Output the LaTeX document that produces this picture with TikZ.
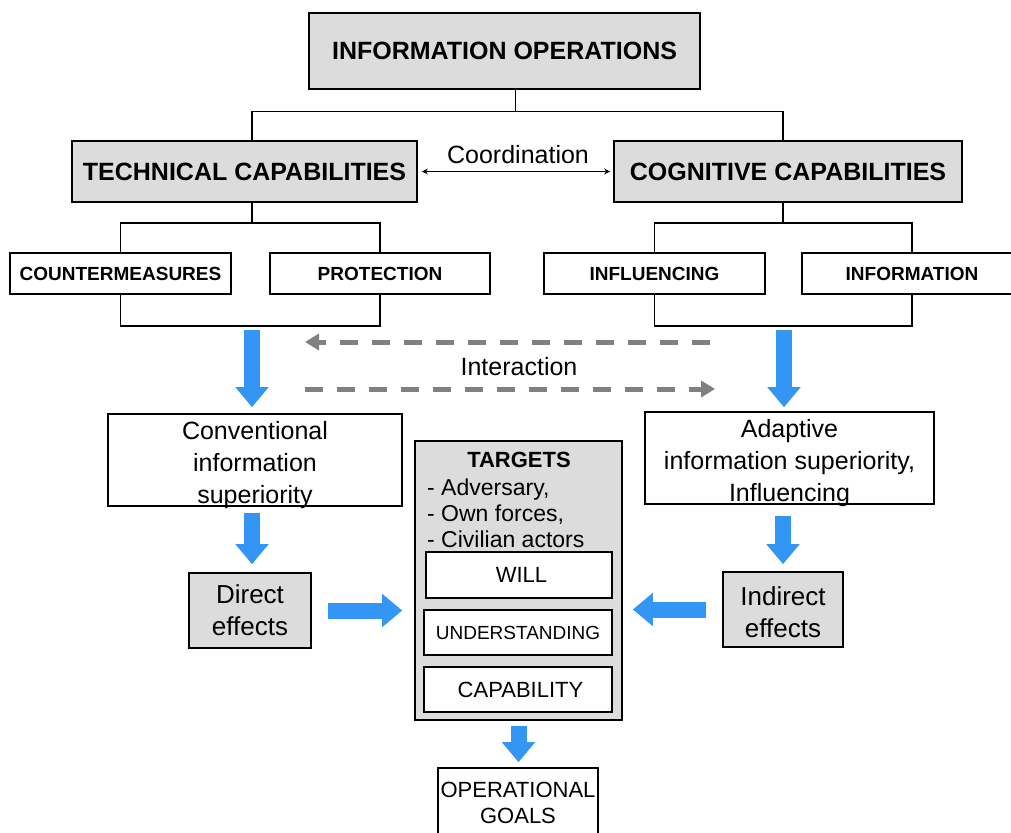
\documentclass[tikz,border=0pt]{standalone}
\usepackage{fontspec}
\setmainfont{Liberation Sans}
\usetikzlibrary{arrows.meta,calc}
\definecolor{boxgray}{RGB}{220,220,220}
\definecolor{arrowblue}{RGB}{51,150,245}
\definecolor{dashgray}{RGB}{128,128,128}
\begin{document}
\begin{tikzpicture}[x=1pt,y=-1pt,
  box/.style={draw=black, line width=1.6pt, inner sep=0pt, align=center},
  graybox/.style={box, fill=boxgray},
  whitebox/.style={box, fill=white},
  conn/.style={draw=black, line width=1.4pt},
  bluearrow/.style={draw=arrowblue, line width=16pt, -{Triangle[width=32pt,length=20pt]}},
  dasharrow/.style={draw=dashgray, line width=5pt, dash pattern=on 18pt off 14pt, -{Triangle[width=16pt,length=14pt]}},
  headfont/.style={font=\bfseries\fontsize{25}{30}\selectfont},
  subfont/.style={font=\bfseries\fontsize{19}{23}\selectfont},
  bodyfont/.style={font=\fontsize{25}{32}\selectfont},
  smallfont/.style={font=\fontsize{22}{26}\selectfont},
  plaintext/.style={inner sep=0pt, align=center}
]
\useasboundingbox (0,0) rectangle (1011,832);
\fill[white] (0,0) rectangle (1011,832);

% top levels
\node[graybox, headfont, minimum width=391pt, minimum height=76pt] (io) at (504.5,51) {INFORMATION OPERATIONS};
\node[graybox, headfont, minimum width=345pt, minimum height=61pt] (tech) at (244.5,171.5) {TECHNICAL CAPABILITIES};
\node[graybox, headfont, minimum width=348pt, minimum height=61pt] (cog) at (788,171.5) {COGNITIVE CAPABILITIES};

\node[whitebox, subfont, minimum width=221pt, minimum height=41pt] (cm) at (120.5,273.5) {COUNTERMEASURES};
\node[whitebox, subfont, minimum width=220pt, minimum height=41pt] (pr) at (380,273.5) {PROTECTION};
\node[whitebox, subfont, minimum width=221pt, minimum height=41pt] (inf) at (654.5,273.5) {INFLUENCING};
\node[whitebox, subfont, minimum width=220pt, minimum height=41pt] (infm) at (912,273.5) {INFORMATION};

\node[bodyfont] (coordlbl) at (518,155) {Coordination};
\node[bodyfont] (interlbl) at (519,367) {Interaction};

\node[whitebox, minimum width=294pt, minimum height=92pt] (conv) at (255,460) {};
\node[plaintext, bodyfont] (convtxt) at (255,465) {Conventional\\information\\superiority};
\node[whitebox, minimum width=289pt, minimum height=92pt] (adapt) at (789.5,458) {};
\node[plaintext, bodyfont] (adapttxt) at (789.5,463) {Adaptive\\information superiority,\\Influencing};

\node[graybox, font=\fontsize{26}{32}\selectfont, minimum width=122pt, minimum height=75pt] (direct) at (250,610.5) {Direct\\effects};
\node[graybox, minimum width=120pt, minimum height=75pt] (indirect) at (783,609.5) {};
\node[plaintext, font=\fontsize{26}{32}\selectfont] (indirecttxt) at (783,612.5) {Indirect\\effects};

\node[graybox, minimum width=207pt, minimum height=279pt] (targets) at (518.5,580.5) {};
\node[font=\bfseries\fontsize{22}{26}\selectfont] (ttitle) at (519,460) {TARGETS};
\node[font=\fontsize{23}{26}\selectfont, anchor=west, align=left, inner sep=0pt] (tlist) at (427,513) {- Adversary,\\- Own forces,\\- Civilian actors};
\node[whitebox, smallfont, minimum width=186pt, minimum height=46pt] (will) at (519,575) {\hspace*{5pt}WILL};
\node[whitebox, font=\fontsize{19}{23}\selectfont, minimum width=188pt, minimum height=45pt] (und) at (518,632.5) {UNDERSTANDING};
\node[whitebox, smallfont, minimum width=188pt, minimum height=45pt] (cap) at (518,689.5) {\hspace*{5pt}CAPABILITY};

\node[whitebox, smallfont, minimum width=160pt, minimum height=70pt] (goals) at (518,803) {OPERATIONAL\\GOALS};

% tree connectors
\draw[conn] ([xshift=11pt]io.south) -- ++(0,22) coordinate (j1);
\draw[conn] ([xshift=7.5pt]tech.north) |- (j1) -| ([xshift=-5pt]cog.north);
\draw[conn] ([xshift=7.5pt]tech.south) -- ++(0,20) coordinate (j2);
\draw[conn] (cm.north) |- (j2) -| (pr.north);
\draw[conn] (cm.south) -- ++(0,31) -| (pr.south);
\draw[conn] ([xshift=-5pt]cog.south) -- ++(0,20) coordinate (j3);
\draw[conn] (inf.north) |- (j3) -| (infm.north);
\draw[conn] (inf.south) -- ++(0,31) -| (infm.south);

% coordination
\draw[conn, {Stealth[length=6pt,width=6pt]}-{Stealth[length=6pt,width=6pt]}, shorten <=4pt, shorten >=3pt] (tech.east) -- (cog.west);

% blue arrows
\coordinate (tbr) at (252,330);
\coordinate (cbr) at (784,330);
\draw[bluearrow, shorten >=6pt] (tbr) -- (tbr |- conv.north);
\draw[bluearrow, shorten >=4pt] (cbr) -- (cbr |- adapt.north);
\draw[bluearrow, shorten <=6pt, shorten >=8pt] ([xshift=-3pt]conv.south) -- ([xshift=-3pt]conv.south |- direct.north);
\draw[bluearrow, shorten <=11pt, shorten >=7pt] ([xshift=-6.5pt]adapt.south) -- ([xshift=-6.5pt]adapt.south |- indirect.north);
\draw[bluearrow, shorten <=16pt, shorten >=12pt] (direct.east) -- (direct.east -| targets.west);
\draw[bluearrow, shorten <=16pt, shorten >=10pt] (indirect.west) -- (indirect.west -| targets.east);
\draw[bluearrow, shorten <=5pt, shorten >=5pt] (targets.south) -- (targets.south |- goals.north);

% interaction dashed arrows
\coordinate (da) at (710,342);
\coordinate (db) at (305,342);
\coordinate (dc) at (305,389);
\coordinate (dd) at (715,389);
\draw[dasharrow] (da) -- (db);
\draw[dasharrow] (dc) -- (dd);
\end{tikzpicture}
\end{document}
